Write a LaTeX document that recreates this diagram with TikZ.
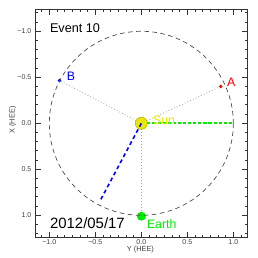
\documentclass[tikz,border=0pt]{standalone}
\usepackage{fontspec}
\setmainfont{Liberation Sans}
\usetikzlibrary{positioning}
\definecolor{sunyellow}{RGB}{232,232,0}
\definecolor{sunedge}{RGB}{190,190,0}
\definecolor{earthgreen}{RGB}{0,235,0}
\tikzset{
  every node/.style={inner sep=0pt, outer sep=0pt},
  ticklabel/.style={font=\fontsize{4}{4}\selectfont, text=black!75},
  axistitle/.style={font=\fontsize{4.2}{4.2}\selectfont, text=black!75},
  tag/.style={font=\fontsize{7}{7}\selectfont, anchor=base west},
  frame/.style={draw=black!80, line width=0.5pt},
  orbit/.style={draw=black!70, line width=0.4pt, dash pattern=on 2.6pt off 2pt},
  sightline/.style={draw=black!35, line width=0.45pt, dash pattern=on 0.5pt off 1.2pt},
}

\begin{document}
\begin{tikzpicture}[
      x=1.84cm, y=-1.84cm,
      dot/.style={circle, draw=none, minimum size=#1},
      earthline/.style={draw=earthgreen, line width=1.1pt, dash pattern=on 1.8pt off 1.1pt},
      cmeline/.style={draw=blue, line width=0.9pt, dash pattern=on 2.2pt off 1.7pt}
    ]
    \useasboundingbox (-1.536,-1.340) rectangle (1.268,1.464);

    % Plot frame and ticks
    \draw[frame] (-1.15,-1.235) rectangle (1.15,1.24);
    \foreach \v in {-1.0,-0.5,0.0,0.5,1.0} {
      \draw[frame] (-1.15,\v) -- ++(0.055,0);
      \draw[frame] (1.15,\v) -- ++(-0.055,0);
      \draw[frame] (\v,1.24) -- ++(0,-0.055);
      \draw[frame] (\v,-1.235) -- ++(0,0.055);
    }
    \foreach \k in {-12,...,12} {
      \draw[frame] (-1.15,{\k/10}) -- ++(0.028,0);
      \draw[frame] (1.15,{\k/10}) -- ++(-0.028,0);
    }
    \foreach \k in {-13,...,13} {
      \draw[frame] ({\k/12},1.24) -- ++(0,-0.028);
      \draw[frame] ({\k/12},-1.235) -- ++(0,0.028);
    }
    \foreach \v/\t in {-1.0/−1.0,-0.5/−0.5,0.0/0.0,0.5/0.5,1.0/1.0} {
      \node[ticklabel, anchor=east] (xt\t) at (-1.195,\v) {\t};
      \node[ticklabel] (yt\t) at (\v,1.293) {\t};
    }
    \node[axistitle] (ytitle) at (-0.01,1.37) {Y (HEE)};
    \node[axistitle, rotate=90] (xtitle) at (-1.398,-0.036) {X (HEE)};

    % Main objects
    \node[dot=0.24cm, fill=sunyellow, draw=sunedge, line width=0.4pt] (sun) at (0,0) {};
    \node[dot=0.18cm, fill=earthgreen] (earth) at (0,1.01) {};
    \node[dot=0.075cm, fill=red] (stA) at (0.863,-0.40) {};
    \node[dot=0.075cm, fill=blue] (stB) at (-0.89,-0.465) {};
    \coordinate (cmeend) at (-0.449,0.844);
    \coordinate (earthdir) at (1.0,0);

    % Orbit and lines of sight
    \draw[orbit] (0,0) circle[radius=1];
    \draw[sightline] (sun) -- (stA);
    \draw[sightline] (sun) -- (stB);
    \draw[sightline] (sun) -- (earth);
    \draw[cmeline] (sun.center) -- (cmeend);
    \draw[earthline] (sun.east) -- (earthdir);

    % Labels
    \node[tag, text=sunyellow] (sunlabel) at (0.127,0.008) {Sun};
    \node[tag, text=earthgreen] (earthlabel) at (0.062,1.141) {Earth};
    \node[tag, text=red] (labelA) at (0.932,-0.395) {A};
    \node[tag, text=blue] (labelB) at (-0.808,-0.46) {B};
    \node[tag, font=\fontsize{7.2}{7.2}\selectfont] (event) at (-0.992,-0.985) {Event 10};
    \node[tag, font=\fontsize{8.5}{8.5}\selectfont] (date) at (-0.992,1.141) {2012/05/17};

    \end{tikzpicture}
\end{document}
